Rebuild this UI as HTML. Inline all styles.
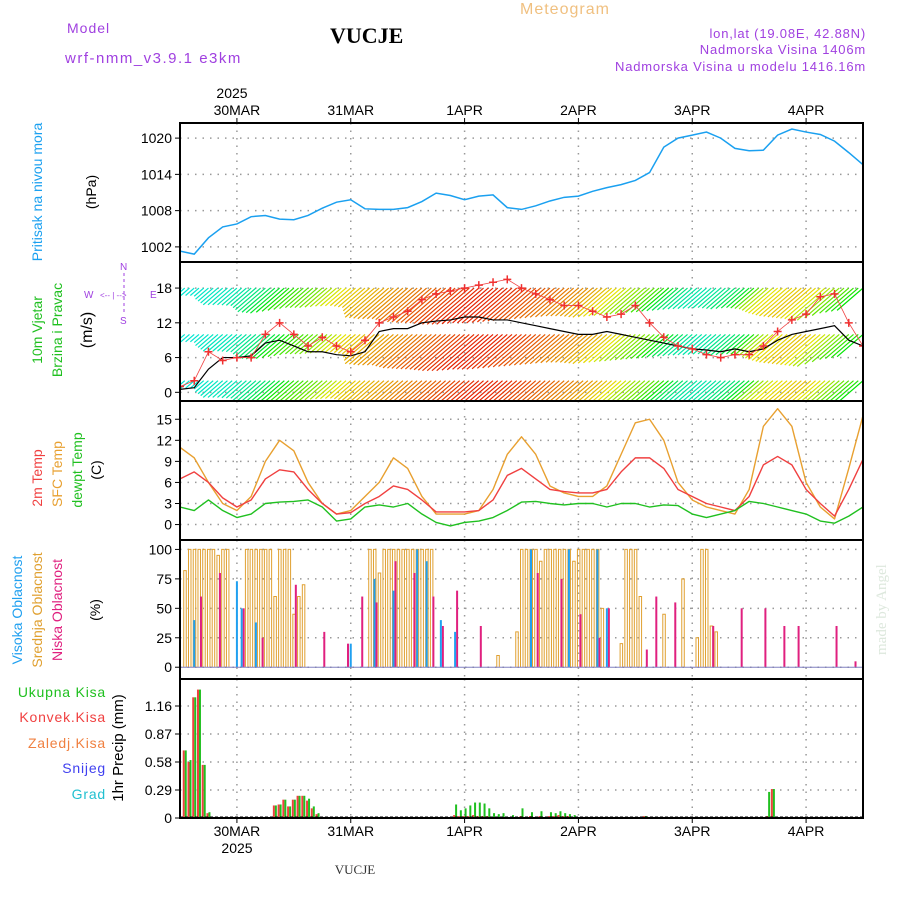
<!DOCTYPE html>
<html><head><meta charset="utf-8">
<style>
html,body{margin:0;padding:0;background:#fff;}
svg{display:block;font-family:"Liberation Sans",sans-serif;}
</style></head>
<body>
<svg id="chart" width="900" height="900" viewBox="0 0 900 900" xmlns="http://www.w3.org/2000/svg">
<defs>
<clipPath id="c1"><rect x="180" y="123" width="683" height="139"/></clipPath>
<clipPath id="c2"><rect x="180" y="262" width="683" height="139"/></clipPath>
<clipPath id="c3"><rect x="180" y="401" width="683" height="139"/></clipPath>
<clipPath id="c4"><rect x="180" y="540" width="683" height="139"/></clipPath>
<clipPath id="c5"><rect x="180" y="679" width="683" height="139"/></clipPath>
</defs>
<text x="520" y="14" font-size="16" fill="#f0c080" letter-spacing="1">Meteogram</text>
<text x="330" y="43" font-size="22" font-weight="bold" font-family="Liberation Serif,serif" fill="#000">VUCJE</text>
<text x="67" y="33" font-size="14" fill="#a040e0" letter-spacing="1">Model</text>
<text x="65" y="63" font-size="15" fill="#a040e0" letter-spacing="1.5">wrf-nmm_v3.9.1 e3km</text>
<text x="866" y="38" font-size="13" fill="#a040e0" text-anchor="end" letter-spacing="0.8">lon,lat (19.08E, 42.88N)</text>
<text x="866" y="54" font-size="13" fill="#a040e0" text-anchor="end" letter-spacing="0.8">Nadmorska Visina 1406m</text>
<text x="866" y="71" font-size="13" fill="#a040e0" text-anchor="end" letter-spacing="0.8">Nadmorska Visina u modelu 1416.16m</text>
<text x="355" y="874" font-size="13" font-family="Liberation Serif,serif" fill="#333" text-anchor="middle">VUCJE</text>
<text transform="translate(886,655) rotate(-90)" font-size="15" font-family="Liberation Serif,serif" fill="#dde8dd">made by Angel</text>
<g id="plots"></g>
</svg>
<script>
const NS="http://www.w3.org/2000/svg";
const svg=document.getElementById('plots');
function el(tag,attrs,parent){const e=document.createElementNS(NS,tag);for(const k in attrs)e.setAttribute(k,attrs[k]);(parent||svg).appendChild(e);return e;}
function txt(s,attrs,parent){const e=el('text',attrs,parent);e.textContent=s;return e;}

// ---------- DATA ----------
const dayLabels=["30MAR","31MAR","1APR","2APR","3APR","4APR"];
const dayHours=[12,36,60,84,108,132];
const pressTicks=[1002,1008,1014,1020];
const pressure=[1001.3,1000.8,1003.5,1005.3,1005.8,1007,1007.2,1006.6,1006.5,1007.2,1008.4,1009.4,1009.8,1008.3,1008.2,1008.2,1008.5,1009.5,1010.9,1010.5,1009.8,1010.4,1010.6,1008.5,1008.2,1008.8,1009.6,1010.2,1010.4,1011.2,1011.8,1012.3,1013,1014.3,1018.5,1020,1020.5,1021,1020,1018.3,1017.9,1018,1020.5,1021.5,1021,1020.6,1019.5,1017.6,1015.6];
const windTicks=[0,6,12,18];
const windSpeed=[0.5,0.8,4,6,6,6.3,8.5,9,8,7,7,6.5,6.3,7,10.5,11,11,12,12.3,12.5,13,13,12.5,12.5,12,11.5,11,10.5,10,10,10.5,10,9.5,9,8.5,8,7.5,7.3,7,7.5,7,7.5,9,10,10.5,11,11.5,9,8];
const windGust=[1,2,7,5.5,6,6,10,12,10,8,9.5,8,7,9,12,13,14,16,17,17.5,18,18.5,19,19.5,18,17,16,15,15,14,13,13.5,15,12,9.5,8,7.5,6.5,6,6.5,6.5,8,10.5,12.5,13.5,16.5,17,12,8];
const windHue=[175,175,172,170,168,160,150,130,110,100,90,70,55,50,45,40,35,30,25,20,15,10,8,10,15,20,25,30,35,40,50,60,80,90,110,140,160,165,160,150,130,80,60,55,50,60,80,100,120];
const tempTicks=[0,3,6,9,12,15];
const sfcTemp=[11,9.5,6,3,2,4,9,12,10.5,6,3,1.5,2,4,6,9.5,8,4,1.5,1.5,1.5,2,5,10,12.5,10,5.5,4.5,4,4,5.5,10,14.5,15,12,6,3.5,2.5,2,1.5,5,14,16.5,14,6,2.5,0.8,8,15.5];
const temp2m=[6.5,7.5,6,3.8,2.5,3.5,6.5,7.8,7.5,5,3,1.5,1.7,3,4,5.5,5,3.5,1.8,1.8,1.8,2,3.5,7,8,6.5,5,4.7,4.5,4.5,5,7.5,9.5,9.5,8,5,4,3,2.5,2,4,8.5,9.7,8.5,5,3,1.2,5,9.3];
const dewTemp=[2.5,2,3.5,2,1,1.5,3,3.2,3.3,3.5,2.5,0.5,0.8,2.5,2.8,2.5,3,1.5,0.3,-0.2,0.3,0.5,1,2,3.2,3.3,3,2.8,3,3,2.5,3,3,2.5,2.8,2.7,1.5,1,1.5,2,3.3,3,2.5,2,1.5,0.5,0.2,1.2,2.5];
const cloudTicks=[0,25,50,75,100];
const midHours=[1,2,3,4,5,6,7,8,9,10,14,15,16,17,18,19,20,21,22,23,24,25,26,40,41,42,43,44,45,46,47,48,49,50,51,52,53,67,71,72,73,74,75,76,77,78,79,80,81,82,83,84,85,86,87,88,89,93,94,95,96,97,102,106,109,110,111,112,113];
const midVals=[82,100,100,100,100,100,100,95,100,100,100,100,100,100,100,100,60,100,100,100,45,60,70,100,100,80,100,100,100,100,100,100,100,100,100,100,100,10,30,100,100,100,100,90,100,100,100,100,100,100,90,100,100,100,100,100,50,20,100,100,100,60,45,75,25,100,100,35,30];
const lowHours=[4,8,13,17,24,30,35,38,41,45,49,53,55,58,63,75,80,84,88,90,98,100,104,112,118,123,127,130,138,142];
const lowVals=[60,80,50,25,70,30,20,60,55,90,80,60,35,65,35,80,75,45,25,50,15,60,55,35,50,50,35,35,35,5];
const highHours=[3,12,13,16,36,41,45,50,52,55,58,74,82,88,90];
const highVals=[40,73,50,38,20,75,65,100,90,40,30,100,100,100,50];
const precTicks=[0,0.29,0.58,0.87,1.16];
const precHours=[1,2,3,4,5,6,20,21,22,23,24,25,26,27,28,29,58,59,60,61,62,63,64,65,66,67,68,70,72,74,76,78,79,80,81,82,83,98,124,125];
const totalPrec=[0.7,0.6,1.25,1.33,0.55,0.06,0.13,0.14,0.19,0.12,0.19,0.23,0.23,0.2,0.12,0.05,0.14,0.08,0.1,0.13,0.16,0.16,0.15,0.1,0.05,0.04,0.05,0.03,0.1,0.06,0.07,0.06,0.05,0.07,0.05,0.04,0.03,0.02,0.27,0.3];
const convPrec=[0.7,0.58,1.25,1.33,0.55,0.05,0.13,0.14,0.19,0.12,0.19,0.23,0.23,0.18,0.1,0.04,0.03,0.02,0.02,0.02,0.03,0.02,0.02,0.02,0,0,0,0,0.02,0.02,0.02,0.02,0.02,0.03,0.02,0.02,0,0.02,0.02,0.3];

// ---------- AXES ----------
const X0=180,X1=863,HMAX=144;
const xs=h=>X0+(X1-X0)*h/HMAX;
const panels=[
 {top:123,bot:262,min:999.5,max:1022.5,ticks:pressTicks,fmt:v=>v,name:'pressure'},
 {top:262,bot:401,min:-1.5,max:22.5,ticks:windTicks,fmt:v=>v,name:'wind'},
 {top:401,bot:540,min:-2.2,max:17.6,ticks:tempTicks,fmt:v=>v,name:'temperature'},
 {top:540,bot:679,min:-10,max:108,ticks:cloudTicks,fmt:v=>v,name:'cloud'},
 {top:679,bot:818,min:0,max:1.43,ticks:precTicks,fmt:v=>v,name:'precip'}];
panels.forEach(p=>{p.y=v=>p.bot-(v-p.min)/(p.max-p.min)*(p.bot-p.top);});
panels[4].y=v=>818-(v/0.29)*28;
panels[4].fmt=v=>v===0?'0':v.toFixed(2);

panels.forEach((p,i)=>{
  const g=el('g',{});
  
  
  p.ticks.forEach(t=>{
    const y=p.y(t);
    el('line',{x1:X0,x2:X1,y1:y,y2:y,stroke:'#999','stroke-width':1.5,'stroke-dasharray':'1.5,6'},g);
    el('line',{x1:X0-5,x2:X0,y1:y,y2:y,stroke:'#000','stroke-width':1},g);
    const t2=txt(String(p.fmt(t)),{x:X0-8,y:y+5,'font-size':14,'text-anchor':'end',fill:'#000'},g);
    
    
  });
  dayHours.forEach(h=>{
    el('line',{x1:xs(h),x2:xs(h),y1:p.top,y2:p.bot,stroke:'#999','stroke-width':1.5,'stroke-dasharray':'1.5,6'},g);
  });
});

// ---------- PRESSURE ----------
{
const p=panels[0];
const pl=el('polyline',{points:pressure.map((v,i)=>xs(i*3)+','+p.y(v)).join(' '),fill:'none',stroke:'#1aa0f0','stroke-width':1.5,'clip-path':'url(#c1)'});


}

// ---------- WIND ----------
{
const p=panels[1];
const g=el('g',{'clip-path':'url(#c2)'});


const rows=[18,10,2];
for(let h=0;h<=HMAX;h+=1){
  const i=Math.min(48,Math.floor(h/3)),f=(h/3)-i;
  const sp=i<48?windSpeed[i]*(1-f)+windSpeed[i+1]*f:windSpeed[48];
  const hue=i<48?windHue[i]*(1-f)+windHue[i+1]*f:windHue[48];
  const len=Math.max(12,sp*4.5);
  rows.forEach(r=>{
    const x=xs(h),y=p.y(r);
    const col='hsl('+hue+',100%,45%)';
    const ln=el('line',{x1:x,y1:y,x2:x-len*0.72,y2:y+len*0.62,stroke:col,'stroke-width':1.2},g);
    
    
  });
}
const wl=el('polyline',{points:windSpeed.map((v,i)=>xs(i*3)+','+p.y(v)).join(' '),fill:'none',stroke:'#000','stroke-width':1.2,'clip-path':'url(#c2)'});


const gl=el('polyline',{points:windGust.map((v,i)=>xs(i*3)+','+p.y(v)).join(' '),fill:'none',stroke:'#f04040','stroke-width':0.8,'clip-path':'url(#c2)'});


windGust.forEach((v,i)=>{
  const x=xs(i*3),y=p.y(v);
  const m=el('path',{d:`M${x-4},${y}H${x+4}M${x},${y-4}V${y+4}`,stroke:'#f03030','stroke-width':1.5,'clip-path':'url(#c2)'});
  
  
});
}

// ---------- TEMPERATURE ----------
{
const p=panels[2];
[[sfcTemp,'#e8a030','sfc-temp-line'],[temp2m,'#f04040','temp-2m-line'],[dewTemp,'#20c020','dewpoint-line']].forEach(([arr,c,n])=>{
  const l=el('polyline',{points:arr.map((v,i)=>xs(i*3)+','+p.y(v)).join(' '),fill:'none',stroke:c,'stroke-width':1.4,'stroke-linejoin':'round','clip-path':'url(#c3)'});
  
  
});
}

// ---------- CLOUDS ----------
{
const p=panels[3];
const drawBars=(hours,vals,color,dx,n,hollow)=>{
  hours.forEach((h,i)=>{
    const x=xs(h)+dx,y=p.y(vals[i]),y0=p.y(0);
    const r=hollow?el('path',{d:`M${x},${y0}V${y}H${x+2.5}V${y0}`,fill:'none',stroke:color,'stroke-width':1}):el('rect',{x:x,y:y,width:2,height:y0-y,fill:color});
    
    
  });
};
drawBars(midHours,midVals,'#e0a030',-1,'mid-cloud-bar',true);
drawBars(lowHours,lowVals,'#e0207f',1,'low-cloud-bar',false);
drawBars(highHours,highVals,'#20a0f0',-1,'high-cloud-bar',false);
el('line',{x1:X0,x2:X1,y1:p.y(0),y2:p.y(0),stroke:'#8080c0','stroke-width':1});
}

// ---------- PRECIP ----------
{
const p=panels[4];
precHours.forEach((h,i)=>{
  const x=xs(h);
  const r=el('rect',{x:x-2,y:p.y(convPrec[i]),width:2,height:818-p.y(convPrec[i]),fill:'#f04040'});
  
  
  const g=el('rect',{x:x,y:p.y(totalPrec[i]),width:2,height:818-p.y(totalPrec[i]),fill:'#20c020'});
  
  
});
el('line',{x1:X0,x2:X1,y1:817,y2:817,stroke:'#000','stroke-width':1,'stroke-dasharray':'3,2'});
}

// frames
panels.forEach(p=>{
  const r=el('rect',{x:X0,y:p.top,width:X1-X0,height:p.bot-p.top,fill:'none',stroke:'#000','stroke-width':2});
  
  
});

// day labels
dayHours.forEach((h,i)=>{
  const x=xs(h);
  el('line',{x1:x,x2:x,y1:118,y2:123,stroke:'#000'});
  el('line',{x1:x,x2:x,y1:818,y2:823,stroke:'#000'});
  const t=txt(dayLabels[i],{x:x,y:115,'font-size':14,'text-anchor':'middle',fill:'#000'});
  
  
  const b=txt(dayLabels[i],{x:x,y:836,'font-size':14,'text-anchor':'middle',fill:'#000'});
  
  
});
const y1=txt('2025',{x:232,y:98,'font-size':14,'text-anchor':'middle',fill:'#000'});


const y2=txt('2025',{x:237,y:853,'font-size':14,'text-anchor':'middle',fill:'#000'});



// rotated axis titles
function rot(s,x,y,c,n,fs){const t=txt(s,{transform:`translate(${x},${y}) rotate(-90)`,'font-size':fs||14,'text-anchor':'middle',fill:c});return t;}
rot('Pritisak na nivou mora',42,192,'#1aa0f0','pressure-title');
rot('(hPa)',96,192,'#000','pressure-unit');
rot('10m Vjetar',42,330,'#20c020','wind-title-1');
rot('Brzina i Pravac',62,330,'#20c020','wind-title-2');
rot('(m/s)',92,330,'#000','wind-unit',16);
rot('2m Temp',42,478,'#f04040','temp-2m-title');
rot('SFC Temp',62,474,'#e8a030','sfc-temp-title');
rot('dewpt Temp',82,470,'#20c020','dewpt-title');
rot('(C)',101,470,'#000','temp-unit');
rot('Visoka Oblacnost',22,610,'#20a0f0','high-cloud-title');
rot('Srednja Oblacnost',42,610,'#e0a030','mid-cloud-title');
rot('Niska Oblacnost',62,610,'#e0207f','low-cloud-title');
rot('(%)',100,610,'#000','cloud-unit');
rot('1hr Precip (mm)',123,748,'#000','precip-title',15);
// precip legend
[['Ukupna Kisa','#20c020',697],['Konvek.Kisa','#f04040',722],['Zaledj.Kisa','#f08040',748],['Snijeg','#4040f0',773],['Grad','#20c0d0',799]].forEach(([s,c,y])=>{
  const t=txt(s,{x:106,y:y,'font-size':14,'text-anchor':'end',fill:c,'letter-spacing':'0.8'});
  
  
});
// compass
const cg=el('g',{fill:'#a040e0','font-size':10});


txt('N',{x:120,y:270},cg);txt('S',{x:120,y:324},cg);txt('W',{x:84,y:298},cg);txt('E',{x:150,y:298},cg);
txt('<-- | -->',{x:100,y:298,'font-size':8},cg);
el('line',{x1:124,x2:124,y1:273,y2:313,stroke:'#a040e0','stroke-dasharray':'3,3'},cg);
</script>
</body></html>
